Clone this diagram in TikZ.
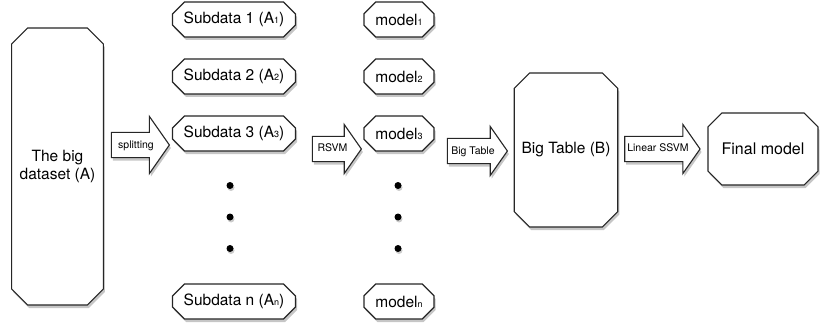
\documentclass[tikz,border=0pt]{standalone}
\usepackage{fontspec}
\setmainfont{TeX Gyre Heros}
\usetikzlibrary{positioning, shapes.misc, shapes.arrows, shadows}

\newcommand{\subidx}[1]{{\fontsize{9}{9}\selectfont #1}}

\begin{document}
\begin{tikzpicture}[x=1pt, y=1pt, node distance=57pt,
		box/.style={chamfered rectangle, chamfered rectangle xsep=6pt,
			chamfered rectangle ysep=6pt,
			draw=black!85, line width=1.1pt, fill=white, inner sep=0pt,
			drop shadow={shadow xshift=1.5pt, shadow yshift=-3pt, opacity=0.45},
			font=\fontsize{15.5}{18}\selectfont},
		bigbox/.style={box, chamfered rectangle xsep=8pt, chamfered rectangle ysep=8pt},
		flow/.style={single arrow, draw=black!85, line width=1.1pt, fill=white,
			single arrow tip angle=110, inner xsep=2pt, inner ysep=7pt,
			text height=8pt, text depth=2pt,
			drop shadow={shadow xshift=1.5pt, shadow yshift=-3pt, opacity=0.45},
			font=\fontsize{10.5}{12}\selectfont},
		dot/.style={circle, fill=black, inner sep=0pt, minimum size=7pt,
			drop shadow={shadow xshift=1pt, shadow yshift=-2pt, opacity=0.4}}]
	\useasboundingbox (0,0) rectangle (823,-329);
	% input data and split
	\node[bigbox, minimum width=91pt, minimum height=277pt, align=center] (data) at (57.5,-166.5) {The big\\dataset (A)};
	\node[flow, minimum height=58pt, single arrow head extend=16pt] (split) at (136,-145) {splitting};
	% subdata column
	\node[box, minimum width=123pt, minimum height=35pt] (sub1) at (234,-19.5) {Subdata 1 (A\subidx{1})};
	\node[box, minimum width=123pt, minimum height=35pt, below of=sub1] (sub2) {Subdata 2 (A\subidx{2})};
	\node[box, minimum width=123pt, minimum height=35pt, below of=sub2] (sub3) {Subdata 3 (A\subidx{3})};
	\node[dot, node distance=52pt, below of=sub3, xshift=-4pt] (sdot1) {};
	\node[dot, node distance=31.5pt, below of=sdot1] (sdot2) {};
	\node[dot, node distance=31.5pt, below of=sdot2] (sdot3) {};
	\node[box, minimum width=123pt, minimum height=35pt, node distance=53pt, below of=sdot3, xshift=4pt] (subn) {Subdata n (A\subidx{n})};
	% models
	\node[flow, minimum height=49pt, single arrow head extend=12pt] (rsvm) at (332.5,-149) {RSVM};
	\node[box, minimum width=70pt, minimum height=35pt, node distance=165pt, right of=sub1] (model1) {model\subidx{1}};
	\node[box, minimum width=70pt, minimum height=35pt, node distance=165pt, right of=sub2] (model2) {model\subidx{2}};
	\node[box, minimum width=70pt, minimum height=35pt, node distance=165pt, right of=sub3] (model3) {model\subidx{3}};
	\node[dot, node distance=168pt, right of=sdot1] (mdot1) {};
	\node[dot, node distance=168pt, right of=sdot2] (mdot2) {};
	\node[dot, node distance=168pt, right of=sdot3] (mdot3) {};
	\node[box, minimum width=70pt, minimum height=35pt, node distance=165pt, right of=subn] (modeln) {model\subidx{n}};
	% big table and final model
	\node[flow, minimum height=60pt, single arrow head extend=12pt] (collect) at (473,-151) {Big Table};
	\node[bigbox, minimum width=102pt, minimum height=154pt] (table) at (566,-150) {Big Table (B)};
	\node[flow, minimum height=68pt, single arrow head extend=12pt] (ssvm) at (658,-149) {Linear SSVM};
	\node[bigbox, minimum width=110pt, minimum height=72pt, font=\fontsize{16}{18}\selectfont] (final) at (763,-149) {Final model};
\end{tikzpicture}
\end{document}
